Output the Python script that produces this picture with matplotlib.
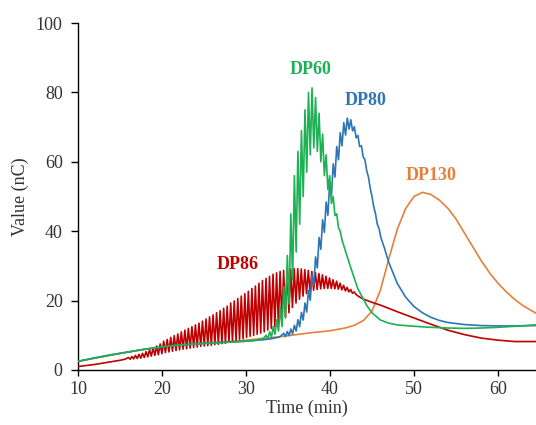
import numpy as np
import matplotlib.pyplot as plt

# =====================================================================
# STYLE
# =====================================================================

plt.rcParams.update({
    "font.family": "serif",
    "font.serif": ["Liberation Serif", "DejaVu Serif"],
    "font.size": 13,
    "axes.linewidth": 1.0,
    "axes.edgecolor": "black",
})

TEXT_COLOR = "#333333"

COLORS = {
    "DP60": "#1DB153",
    "DP80": "#2E75B6",
    "DP130": "#E5803C",
    "DP86": "#C00000",
}

# spacing of the saw-tooth ripple on the traces (min)
WAVE_STEP = 0.42

# =====================================================================
# DATA
# =====================================================================

# ---- DP86 (red) ------------------------------------------------------
dp86_t_head = [10, 11, 12, 13, 14, 15, 15.6]
dp86_v_head = [1.0, 1.3, 1.6, 2.0, 2.4, 2.8, 3.1]
dp86_wave_t0 = 16.0
dp86_peaks = [3.6, 3.9, 4.2, 4.5, 4.8, 5.3, 5.8, 6.4, 6.9, 7.5,
              8.3, 8.8, 9.4, 9.9, 10.4, 11.0, 11.5, 12.0, 12.5, 13.0,
              13.5, 14.1, 14.7, 15.3, 15.9, 16.5, 17.1, 17.8, 18.4, 19.3,
              19.9, 20.6, 21.3, 22.0, 22.7, 23.5, 24.2, 25.0, 25.8, 26.4,
              27.0, 27.6, 28.0, 28.4, 28.7, 29.0, 29.1, 29.2, 29.2, 29.1,
              28.9, 28.7, 28.4, 28.1, 27.8, 27.4, 27.0, 26.5, 26.0, 25.6,
              25.0, 24.4, 23.8, 23.2, 22.5]
dp86_troughs = [3.1, 3.2, 3.3, 3.4, 3.6, 3.8, 4.0, 4.2, 4.4, 4.7,
                5.0, 5.2, 5.4, 5.6, 5.8, 6.0, 6.1, 6.3, 6.5, 6.6,
                6.8, 6.9, 7.0, 7.1, 7.3, 7.4, 7.6, 7.7, 8.0, 8.2,
                8.5, 8.8, 9.0, 9.4, 9.7, 10.0, 10.3, 10.6, 11.0, 11.5,
                12.0, 12.5, 13.2, 14.0, 15.2, 16.5, 18.0, 19.3, 20.4, 21.3,
                22.0, 22.5, 23.0, 23.2, 23.4, 23.5, 23.5, 23.5, 23.4, 23.3,
                23.1, 22.8, 22.5, 22.1, 21.8]
dp86_t_tail = [43.4, 44, 45, 46, 48, 50, 52, 54, 56, 58, 60, 62, 64.5]
dp86_v_tail = [21.2, 20.4, 19.5, 18.7, 16.8, 15.0, 13.2, 11.5, 10.2, 9.2, 8.6, 8.2, 8.2]

# ---- DP60 (green) ----------------------------------------------------
dp60_t_head = [10, 12, 14, 16, 18, 20, 22, 24, 26, 28, 30, 31, 32]
dp60_v_head = [2.5, 3.5, 4.4, 5.2, 6.0, 6.7, 7.2, 7.5, 7.8, 8.0, 8.3, 8.5, 9.0]
dp60_wave_t0 = 32.4
dp60_peaks = [10.0, 11.0, 12.5, 14.5, 18.0, 24.0, 33.0, 45.0, 56.0, 63.0,
              69.0, 75.0, 80.0, 81.3, 78.5, 74.0, 68.0, 62.0, 56.0, 50.0,
              45.0, 40.0]
dp60_troughs = [9.0, 9.5, 10.3, 11.2, 12.5, 15.0, 19.0, 26.0, 34.0, 42.0,
                50.0, 57.0, 62.0, 64.0, 63.0, 60.0, 56.0, 52.0, 48.0, 44.5,
                41.0, 37.5]
dp60_t_tail = [41.8, 42.4, 43.3, 44.4, 45, 46, 47, 48, 50, 52, 54, 56, 58, 60, 62, 64.5]
dp60_v_tail = [34.6, 30.0, 23.5, 18.5, 16.5, 14.4, 13.5, 13.0, 12.6, 12.3, 12.1,
               12.0, 12.1, 12.3, 12.6, 13.0]

# ---- DP80 (blue) -----------------------------------------------------
dp80_t_head = [10, 14, 18, 22, 26, 30, 32, 33, 34]
dp80_v_head = [2.5, 4.4, 6.0, 7.2, 7.8, 8.3, 8.7, 9.0, 9.5]
dp80_wave_t0 = 34.5
dp80_peaks = [10.6, 11.1, 11.8, 12.9, 14.5, 16.6, 19.3, 22.9, 27.5, 32.6,
              38.2, 43.3, 48.4, 53.9, 59.4, 64.4, 68.4, 71.3, 72.6, 72.1,
              70.1, 67.6, 64.6, 60.6, 55.6, 50.0, 45.0, 40.8]
dp80_troughs = [9.6, 9.9, 10.4, 11.2, 12.5, 14.4, 16.7, 20.1, 24.5, 29.4,
                34.8, 39.7, 44.6, 50.1, 55.6, 60.6, 64.6, 67.7, 69.4, 68.9,
                66.9, 64.4, 61.4, 57.4, 52.4, 47.0, 42.0, 38.2]
dp80_t_tail = [46.5, 47, 47.5, 48, 49, 50, 51, 52, 53, 54, 56, 58, 60, 62, 64.5]
dp80_v_tail = [35.0, 31.0, 28.0, 25.0, 21.0, 18.3, 16.5, 15.2, 14.3, 13.7,
               13.1, 12.8, 12.7, 12.7, 12.8]

# ---- DP130 (orange) --------------------------------------------------
dp130_t = [10, 12, 14, 16, 18, 20, 22, 24, 26, 28, 30, 32, 34, 36, 38, 40,
           42, 43, 44, 45, 46, 47, 48, 49, 50, 51, 52, 53, 54, 55, 56, 57,
           58, 59, 60, 61, 62, 63, 64.5]
dp130_v = [2.5, 3.4, 4.3, 5.2, 6.0, 6.7, 7.2, 7.6, 7.9, 8.2, 8.6, 9.1, 9.6,
           10.2, 10.8, 11.3, 12.2, 13.0, 14.3, 17.0, 23.0, 32.0, 40.5, 46.5,
           50.0, 51.2, 50.6, 49.0, 46.7, 43.5, 39.5, 35.5, 31.5, 28.0, 25.0,
           22.5, 20.3, 18.5, 16.4]

# label placement (time, value)
LABELS = {
    "DP60": (37.7, 86.5),
    "DP80": (44.2, 77.8),
    "DP130": (52.0, 56.0),
    "DP86": (29.0, 30.5),
}

# =====================================================================
# BUILD TRACES
# =====================================================================


def build(t_head, v_head, t0, peaks, troughs, t_tail, v_tail):
    t = list(t_head)
    v = list(v_head)
    for k, (p, q) in enumerate(zip(peaks, troughs)):
        tk = t0 + k * WAVE_STEP
        t += [tk, tk + WAVE_STEP / 2]
        v += [p, q]
    t += list(t_tail)
    v += list(v_tail)
    return np.array(t), np.array(v)


traces = {
    "DP130": (np.array(dp130_t), np.array(dp130_v)),
    "DP86": build(dp86_t_head, dp86_v_head, dp86_wave_t0, dp86_peaks,
                  dp86_troughs, dp86_t_tail, dp86_v_tail),
    "DP80": build(dp80_t_head, dp80_v_head, dp80_wave_t0, dp80_peaks,
                  dp80_troughs, dp80_t_tail, dp80_v_tail),
    "DP60": build(dp60_t_head, dp60_v_head, dp60_wave_t0, dp60_peaks,
                  dp60_troughs, dp60_t_tail, dp60_v_tail),
}

# =====================================================================
# PLOT
# =====================================================================

fig = plt.figure(figsize=(5.36, 4.25), dpi=100)
ax = fig.add_axes([78 / 536, 55 / 425, 458 / 536, 347 / 425])

for z, (name, (t, v)) in enumerate(traces.items()):
    ax.plot(t, v, color=COLORS[name], linewidth=1.2, zorder=2 + z)

for name, (tx, vy) in LABELS.items():
    ax.text(tx, vy, name, color=COLORS[name], fontsize=13, fontweight="bold",
            ha="center", va="center")

ax.set_xlim(10, 10 + 458 / 8.4)
ax.set_ylim(0, 100)
ax.set_xticks([10, 20, 30, 40, 50, 60])
ax.set_yticks([0, 20, 40, 60, 80, 100])
ax.tick_params(axis="x", direction="out", length=4, width=1.0, labelsize=13,
               pad=4, labelcolor=TEXT_COLOR)
ax.tick_params(axis="y", direction="out", length=5, width=1.0, labelsize=13,
               pad=6, labelcolor=TEXT_COLOR)

ax.spines["top"].set_visible(False)
ax.spines["right"].set_visible(False)

ax.set_xlabel("Time (min)", fontsize=13, labelpad=1, color=TEXT_COLOR)
ax.set_ylabel("Value (nC)", fontsize=13, labelpad=5, color=TEXT_COLOR)

fig.savefig("out.png", dpi=100)
